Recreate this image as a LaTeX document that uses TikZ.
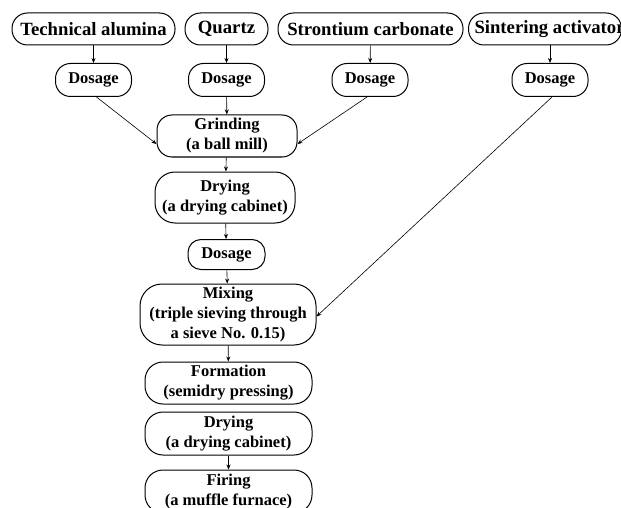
\documentclass[tikz,border=0pt]{standalone}
\usepackage{fontspec}
\setmainfont{Liberation Serif}
\usetikzlibrary{arrows.meta}
\tikzset{
  StepBox/.style={draw, line width=1pt, rounded corners=15pt, align=center, inner sep=0pt,
    font=\fontsize{16.5}{20}\selectfont\bfseries},
  RawBox/.style={StepBox, minimum height=32pt, rounded corners=15.5pt, font=\fontsize{18.7}{21}\selectfont\bfseries},
  DoseBox/.style={StepBox, minimum width=76pt, minimum height=33pt},
  FlowArrow/.style={-{Stealth[length=5pt,width=4pt]}, line width=0.6pt}
}

\begin{document}
\begin{tikzpicture}[x=1pt,y=-1pt]
\path[use as bounding box, clip] (0,0) rectangle (621,508);
% raw materials
\node[RawBox, minimum width=163pt] (Alumina) at (93.5,29) {Technical alumina};
\node[RawBox, minimum width=83pt] (Quartz) at (226.5,29) {Quartz};
\node[RawBox, minimum width=185pt] (Strontium) at (370.5,29) {Strontium carbonate};
\node[RawBox, minimum width=153pt, anchor=west] (Activator) at (468,29) {\hspace*{4pt}\makebox[145pt][l]{Sintering activator}};
% dosage row
\node[DoseBox] (DoseA) at (93.5,80) {Dosage};
\node[DoseBox] (DoseB) at (226.5,80) {Dosage};
\node[DoseBox] (DoseC) at (370,80) {Dosage};
\node[DoseBox] (DoseD) at (550,80) {Dosage};
% main line
\node[StepBox, minimum width=140pt, minimum height=42pt] (Grinding) at (227,136) {Grinding\\(a ball mill)};
\node[StepBox, minimum width=140pt, minimum height=51pt, rounded corners=20pt] (DryingA) at (225,197.5) {Drying\\(a drying cabinet)};
\node[StepBox, minimum width=77pt, minimum height=30pt, rounded corners=13pt] (DoseE) at (226.5,254.5) {Dosage};
\node[StepBox, minimum width=176pt, minimum height=61pt, rounded corners=22pt] (Mixing) at (228,314.5) {Mixing\\(triple sieving through\\a sieve No. 0.15)};
\node[StepBox, minimum width=167pt, minimum height=42pt, rounded corners=18pt] (Formation) at (228.5,383) {Formation\\(semidry pressing)};
\node[StepBox, minimum width=167pt, minimum height=43pt, rounded corners=18pt] (DryingB) at (228.5,433.5) {Drying\\(a drying cabinet)};
\node[StepBox, minimum width=167pt, minimum height=43pt, rounded corners=18pt] (Firing) at (228.5,491.5) {Firing\\(a muffle furnace)};
% connectors
\draw[FlowArrow] (Alumina) -- (DoseA);
\draw[FlowArrow] (Quartz) -- (DoseB);
\draw[FlowArrow] (Strontium) -- (DoseC);
\draw[FlowArrow] (Activator.south -| DoseD) -- (DoseD);
\draw[FlowArrow] ([xshift=3pt]DoseA.south) -- ([yshift=-8pt]Grinding.west);
\draw[FlowArrow] (DoseB) -- (Grinding);
\draw[FlowArrow] ([xshift=-3pt]DoseC.south) -- ([yshift=-8pt]Grinding.east);
\draw[FlowArrow] (Grinding) -- (DryingA);
\draw[FlowArrow] (DryingA) -- (DoseE);
\draw[FlowArrow] (DoseE) -- (Mixing);
\draw[FlowArrow] ([xshift=2pt]DoseD.south) -- ([yshift=-2pt]Mixing.east);
\draw[FlowArrow] (Mixing) -- (Formation);
\draw[FlowArrow] (DryingB) -- (Firing);
\end{tikzpicture}
\end{document}
